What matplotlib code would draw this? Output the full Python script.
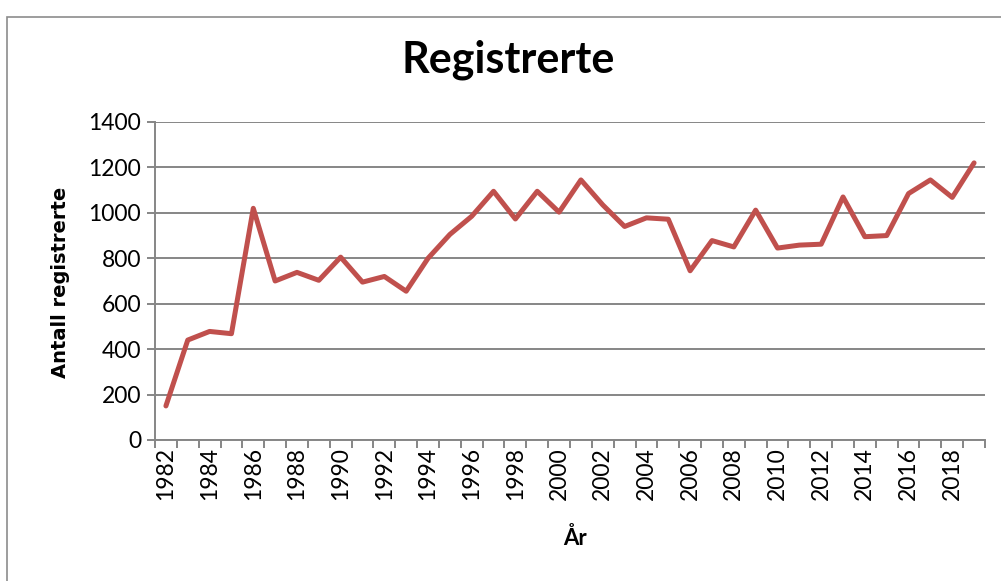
import numpy as np
import matplotlib
matplotlib.use('Agg')
import matplotlib.pyplot as plt
from matplotlib.patches import Rectangle

years = list(range(1982, 2020))
registrerte = [150, 440, 478, 468, 1020, 700, 738, 703, 805, 695,
               720, 655, 800, 905, 985, 1095, 973, 1095, 1003, 1145,
               1035, 940, 978, 972, 745, 878, 850, 1012, 845, 858,
               862, 1070, 895, 900, 1085, 1145, 1068, 1220]
y_ticks = [0, 200, 400, 600, 800, 1000, 1200, 1400]

grid_col = '#868686'
line_col = '#C0504D'

fig = plt.figure(figsize=(10.01, 5.81), dpi=100)
fig.patches.append(Rectangle((7 / 1001, -0.05), 1.1, 1 - 17 / 581 + 0.05,
                             transform=fig.transFigure, fill=False,
                             edgecolor='#8c8c8c', linewidth=1.2))

ax = fig.add_axes([155 / 1001, 1 - 440 / 581, 830 / 1001, 318 / 581])
x = np.arange(len(years))
ax.plot(x, registrerte, color=line_col, linewidth=3.6,
        solid_joinstyle='round', solid_capstyle='round')

ax.set_xlim(-0.5, len(years) - 0.5)
ax.set_ylim(0, 1400)
ax.set_yticks(y_ticks)
ax.set_yticklabels([str(v) for v in y_ticks], fontsize=16.5, family='Lato')
ax.yaxis.grid(True, color=grid_col, linewidth=1.4)
ax.set_axisbelow(True)

ax.set_xticks(np.arange(-0.5, len(years)), minor=False)
ax.set_xticklabels([])
ax.set_xticks(x[::2], minor=True)
ax.set_xticklabels([str(y) for y in years[::2]], minor=True, rotation=90,
                   fontsize=16.5, family='Lato')
ax.tick_params(axis='x', which='minor', length=0, pad=5)
ax.tick_params(axis='x', which='major', length=6, color=grid_col, width=1.4)
ax.tick_params(axis='y', length=6, color=grid_col, width=1.4, pad=4)

for s in ['top', 'right']:
    ax.spines[s].set_visible(False)
for s in ['left', 'bottom']:
    ax.spines[s].set_color(grid_col)
    ax.spines[s].set_linewidth(1.4)

fig.text(508 / 1001, 1 - 60 / 581, 'Registrerte', ha='center', va='center',
         fontsize=31, fontweight='bold', family='Lato')
fig.text(60 / 1001, 1 - 282 / 581, 'Antall registrerte', rotation=90,
         ha='center', va='center', fontsize=14, fontweight='bold',
         family='DejaVu Sans')
fig.text(575 / 1001, 1 - 538 / 581, 'År', ha='center', va='center',
         fontsize=16, fontweight='bold', family='Lato')

fig.savefig('out.png', dpi=100)
